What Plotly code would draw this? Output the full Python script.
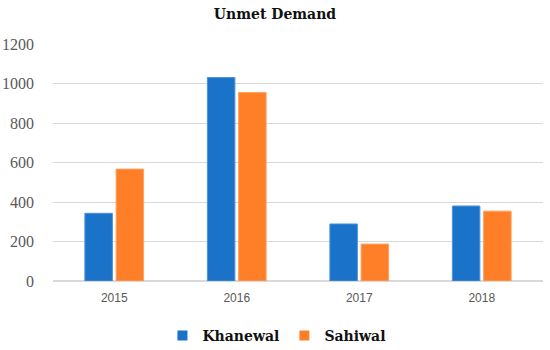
import plotly.graph_objects as go

years = ["2015", "2016", "2017", "2018"]
khanewal = [343, 1031, 289, 380]
sahiwal = [567, 955, 187, 354]
yticks = [0, 200, 400, 600, 800, 1000, 1200]
names = ["Khanewal", "Sahiwal"]
colors = ["#1a73c8", "#fe7f27"]
edges = ["#4b93db", "#ffa060"]

fig = go.Figure()
for name, vals, c, e in zip(names, [khanewal, sahiwal], colors, edges):
    fig.add_trace(go.Bar(name=name, x=years, y=vals, showlegend=False,
                         marker=dict(color=c, line=dict(color=e, width=1))))
for name, c in zip(names, colors):
    fig.add_trace(go.Scatter(name="<b>" + name + "</b>", x=[None], y=[None], mode="markers",
                             marker=dict(symbol="square", size=10, color=c)))

fig.update_layout(
    width=550, height=350,
    margin=dict(l=53, r=7, t=44, b=69, autoexpand=False),
    paper_bgcolor="white", plot_bgcolor="white",
    barmode="group", bargap=0.49, bargroupgap=0.12,
    title=dict(text="<b>Unmet Demand</b>", x=0.5, xanchor="center", y=0.96, yanchor="middle",
               font=dict(family="DejaVu Serif", size=14, color="#111111")),
    showlegend=True,
    legend=dict(orientation="h", x=0.457, xanchor="center", y=-0.232, yanchor="middle",
                font=dict(family="DejaVu Serif", size=14, color="#111111"),
                itemwidth=30, traceorder="normal", tracegroupgap=0),
)
fig.update_yaxes(range=[0, 1201], tickvals=yticks, showgrid=True, gridcolor="#d9d9d9", gridwidth=1,
                 zeroline=True, zerolinecolor="#d9d9d9", ticks="", ticklabelstandoff=18,
                 automargin=False,
                 tickfont=dict(family="Liberation Serif", size=16, color="#595959"))
fig.update_xaxes(showline=False, ticks="", automargin=False, ticklabelstandoff=8,
                 tickfont=dict(family="Liberation Sans", size=12, color="#595959"))

fig.write_html("out.html", config={"displayModeBar": False},
               post_script="document.body.style.margin='0px';")
